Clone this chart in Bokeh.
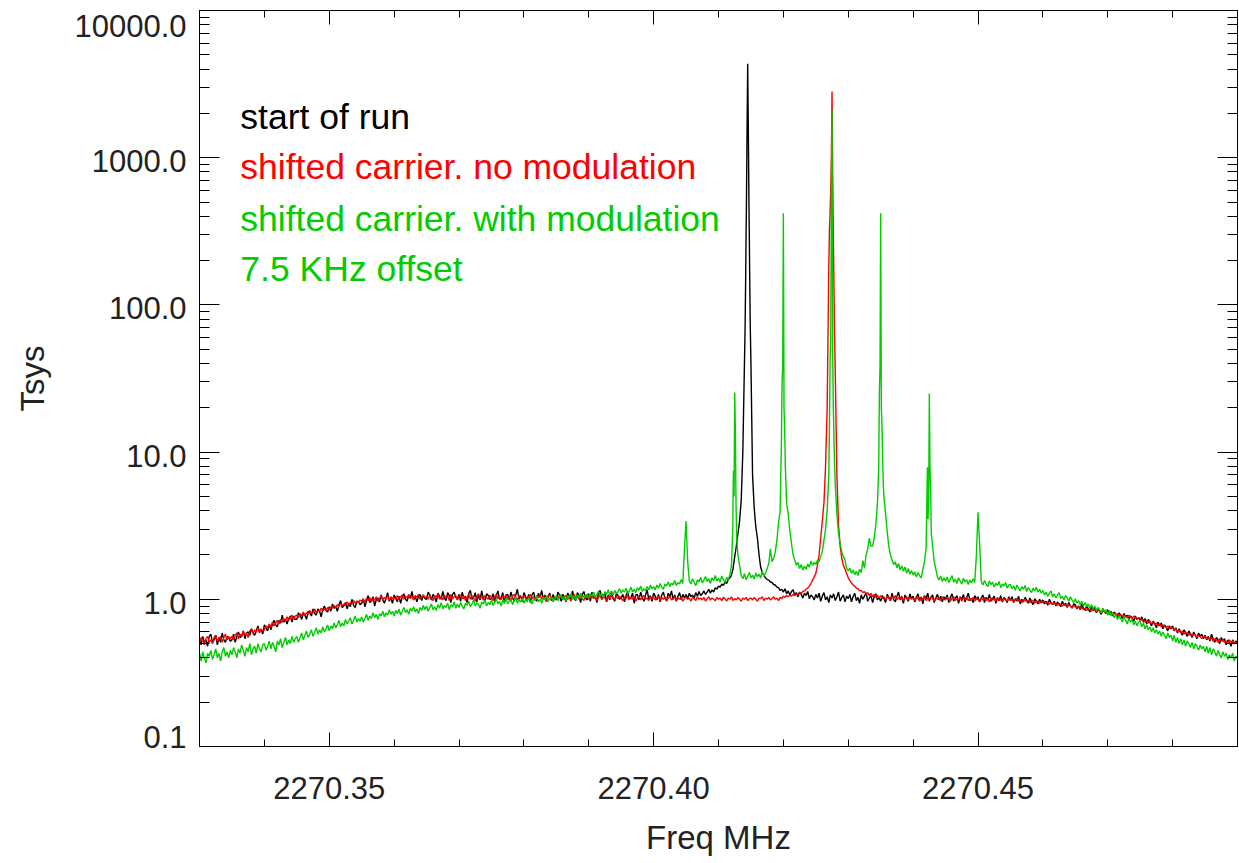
import numpy as np
from bokeh.plotting import figure
from bokeh.models import (Range1d, FixedTicker, LogAxis, LinearAxis, LinearScale,
                          NumeralTickFormatter, CustomJSTickFormatter, Label)
from bokeh.embed import file_html
from bokeh.resources import INLINE

# ---------------- data ----------------
freq_start = 2270.33    # MHz, first channel
freq_step = 0.00025     # MHz, channel spacing of the tabulated spectra

black_base = [
    0.54, 0.49, 0.56, 0.51, 0.53, 0.48, 0.56, 0.58, 0.51, 0.53, 0.57, 0.49, 0.55, 0.51, 0.59, 0.53, 0.51, 0.56, 0.55, 0.52,
    0.53, 0.58, 0.51, 0.56, 0.60, 0.55, 0.56, 0.61, 0.54, 0.59, 0.60, 0.57, 0.63, 0.59, 0.57, 0.61, 0.66, 0.60, 0.62, 0.58,
    0.67, 0.64, 0.61, 0.67, 0.62, 0.68, 0.72, 0.67, 0.65, 0.72, 0.69, 0.78, 0.70, 0.73, 0.68, 0.74, 0.77, 0.70, 0.77, 0.73,
    0.73, 0.81, 0.78, 0.73, 0.80, 0.78, 0.73, 0.83, 0.81, 0.77, 0.86, 0.80, 0.78, 0.86, 0.83, 0.76, 0.85, 0.90, 0.84, 0.82,
    0.89, 0.83, 0.93, 0.87, 0.89, 0.83, 0.92, 0.98, 0.88, 0.90, 0.95, 0.86, 0.94, 0.89, 1.00, 0.91, 0.88, 0.97, 0.96, 0.92,
    0.94, 1.01, 0.89, 0.98, 1.06, 0.95, 0.98, 1.04, 0.90, 1.00, 1.02, 0.96, 1.07, 0.99, 0.94, 1.02, 1.11, 0.97, 1.02, 0.94,
    1.07, 1.02, 0.96, 1.05, 0.94, 1.04, 1.09, 1.00, 0.97, 1.07, 1.02, 1.13, 0.99, 1.05, 0.96, 1.04, 1.08, 0.98, 1.07, 1.01,
    1.00, 1.12, 1.07, 0.99, 1.08, 1.03, 0.96, 1.10, 1.05, 1.00, 1.13, 1.02, 0.98, 1.11, 1.06, 0.95, 1.08, 1.12, 1.03, 1.00,
    1.08, 0.97, 1.12, 1.01, 1.05, 0.95, 1.09, 1.15, 1.00, 1.03, 1.11, 0.96, 1.07, 0.99, 1.14, 1.01, 0.97, 1.09, 1.06, 1.00,
    1.01, 1.09, 0.96, 1.06, 1.14, 1.00, 1.03, 1.11, 0.94, 1.07, 1.08, 0.99, 1.12, 1.03, 0.97, 1.07, 1.17, 1.00, 1.06, 0.96,
    1.11, 1.05, 0.99, 1.08, 0.95, 1.07, 1.12, 1.01, 0.97, 1.10, 1.03, 1.15, 1.00, 1.07, 0.96, 1.05, 1.10, 0.98, 1.08, 1.01,
    0.99, 1.12, 1.07, 0.97, 1.08, 1.03, 0.96, 1.10, 1.05, 1.00, 1.14, 1.01, 0.98, 1.11, 1.06, 0.95, 1.08, 1.13, 1.02, 0.99,
    1.09, 0.97, 1.12, 1.01, 1.05, 0.95, 1.10, 1.15, 1.00, 1.03, 1.11, 0.96, 1.07, 0.99, 1.13, 1.01, 0.97, 1.09, 1.06, 1.00,
    1.02, 1.08, 0.96, 1.06, 1.13, 1.00, 1.03, 1.10, 0.94, 1.07, 1.08, 0.99, 1.12, 1.03, 0.97, 1.07, 1.16, 1.00, 1.06, 0.97,
    1.10, 1.05, 0.99, 1.08, 0.96, 1.07, 1.12, 1.01, 0.98, 1.10, 1.04, 1.14, 1.00, 1.07, 0.97, 1.05, 1.11, 0.99, 1.08, 1.02,
    1.08, 1.01, 1.10, 1.04, 1.07, 1.02, 1.11, 1.05, 1.13, 1.06, 1.09, 1.14, 1.08, 1.12, 1.17, 1.10, 1.16, 1.12, 1.20, 1.17,
    1.23, 1.21, 1.27, 1.24, 1.31, 1.28, 1.36, 1.40, 1.46, 1.62, 1.95, 2.30, 2.80, 3.40, 4.70, 10.0, 40.0, 300.0, 4345.0, 300.0,
    40.0, 7.00, 4.20, 3.10, 2.60, 2.00, 1.65, 1.52, 1.45, 1.40, 1.36, 1.35, 1.31, 1.30, 1.26, 1.25, 1.21, 1.20, 1.15, 1.17,
    1.12, 1.18, 1.09, 1.14, 1.07, 1.13, 1.16, 1.06, 1.11, 1.04, 1.12, 1.08, 1.02, 1.10, 1.06, 1.13, 1.01, 1.07, 1.04, 0.99,
    1.08, 1.02, 1.10, 0.97, 1.05, 1.11, 0.99, 1.04, 0.95, 1.07, 1.02, 1.09, 0.98, 1.04, 1.12, 0.97, 1.03, 1.07, 0.96, 1.05,
    1.01, 1.08, 0.96, 1.04, 1.10, 0.98, 1.03, 0.94, 1.07, 1.00, 1.05, 1.11, 0.97, 1.02, 1.06, 0.95, 1.04, 1.09, 0.99, 1.03,
    0.97, 1.06, 1.01, 0.95, 1.08, 1.03, 0.98, 1.10, 1.00, 0.96, 1.05, 1.12, 0.99, 1.04, 0.94, 1.07, 1.02, 0.97, 1.09, 1.01,
    1.05, 0.96, 1.03, 1.09, 0.98, 1.04, 0.93, 1.06, 1.01, 1.10, 0.97, 1.03, 1.07, 0.95, 1.02, 1.08, 0.99, 1.05, 0.96, 1.04,
    1.00, 1.07, 0.95, 1.03, 1.09, 0.97, 1.02, 1.06, 0.94, 1.04, 1.00, 1.08, 0.96, 1.03, 1.10, 0.98, 1.01, 0.95, 1.06, 1.00,
    1.04, 0.96, 1.02, 1.07, 0.95, 1.03, 0.99, 1.08, 0.97, 1.01, 1.05, 0.94, 1.02, 0.98, 1.06, 0.96, 1.03, 1.00, 0.95, 1.04,
    0.98, 1.04, 0.95, 1.01, 0.97, 1.05, 0.93, 1.00, 0.96, 1.03, 0.99, 0.94, 1.02, 0.96, 0.92, 1.01, 0.97, 0.93, 1.00, 0.95,
    0.99, 0.93, 0.97, 0.91, 1.00, 0.95, 0.92, 0.97, 0.90, 0.96, 0.93, 0.89, 0.97, 0.91, 0.94, 0.88, 0.95, 0.90, 0.87, 0.93,
    0.92, 0.86, 0.90, 0.85, 0.93, 0.87, 0.84, 0.90, 0.86, 0.82, 0.89, 0.84, 0.87, 0.81, 0.86, 0.83, 0.79, 0.86, 0.82, 0.80,
    0.85, 0.79, 0.83, 0.77, 0.82, 0.79, 0.75, 0.81, 0.78, 0.74, 0.80, 0.76, 0.78, 0.73, 0.77, 0.75, 0.71, 0.77, 0.73, 0.75,
    0.72, 0.76, 0.70, 0.74, 0.68, 0.73, 0.70, 0.66, 0.71, 0.68, 0.64, 0.70, 0.66, 0.69, 0.63, 0.67, 0.65, 0.61, 0.66, 0.63,
    0.66, 0.61, 0.64, 0.59, 0.63, 0.60, 0.57, 0.62, 0.59, 0.56, 0.61, 0.58, 0.55, 0.60, 0.57, 0.54, 0.59, 0.56, 0.58, 0.54,
    0.57, 0.53, 0.56, 0.52, 0.58, 0.54, 0.51, 0.55, 0.53, 0.50, 0.55, 0.52, 0.54, 0.49, 0.53, 0.51, 0.48, 0.53, 0.50, 0.52,
    0.51,
]

red_base = [
    0.51, 0.55, 0.53, 0.49, 0.54, 0.56, 0.51, 0.53, 0.50, 0.55, 0.57, 0.52, 0.54, 0.56, 0.51, 0.55, 0.58, 0.53, 0.56, 0.54,
    0.56, 0.53, 0.57, 0.59, 0.54, 0.58, 0.56, 0.61, 0.57, 0.59, 0.55, 0.61, 0.63, 0.58, 0.62, 0.60, 0.64, 0.59, 0.63, 0.61,
    0.62, 0.66, 0.64, 0.68, 0.65, 0.70, 0.66, 0.69, 0.72, 0.68, 0.73, 0.70, 0.74, 0.71, 0.76, 0.72, 0.75, 0.78, 0.73, 0.77,
    0.78, 0.75, 0.80, 0.77, 0.82, 0.78, 0.81, 0.79, 0.84, 0.80, 0.82, 0.86, 0.81, 0.84, 0.82, 0.87, 0.83, 0.86, 0.84, 0.88,
    0.85, 0.89, 0.87, 0.91, 0.88, 0.92, 0.89, 0.94, 0.90, 0.93, 0.91, 0.96, 0.92, 0.95, 0.93, 0.98, 0.94, 0.97, 0.95, 0.99,
    0.97, 1.00, 0.95, 1.02, 0.98, 1.03, 0.96, 1.01, 0.99, 1.04, 0.97, 1.02, 1.05, 0.99, 1.03, 1.00, 1.06, 0.98, 1.04, 1.01,
    1.03, 0.99, 1.06, 1.01, 1.04, 1.07, 1.00, 1.05, 1.02, 1.08, 1.01, 1.05, 0.99, 1.06, 1.03, 1.08, 1.00, 1.04, 1.07, 1.02,
    1.05, 1.00, 1.07, 1.02, 0.98, 1.06, 1.03, 1.09, 1.00, 1.04, 0.99, 1.07, 1.02, 1.05, 0.98, 1.08, 1.01, 1.04, 1.06, 0.99,
    1.04, 1.07, 1.01, 1.05, 0.98, 1.03, 1.08, 1.00, 1.06, 1.02, 0.97, 1.05, 1.09, 1.01, 1.04, 0.99, 1.06, 1.03, 1.00, 1.07,
    1.02, 0.98, 1.05, 1.08, 1.01, 1.04, 0.99, 1.06, 1.03, 1.07, 1.00, 1.04, 0.97, 1.05, 1.08, 1.02, 0.99, 1.06, 1.03, 1.00,
    1.06, 1.02, 0.99, 1.05, 1.08, 1.01, 1.04, 0.98, 1.06, 1.03, 1.07, 1.00, 1.05, 1.02, 0.97, 1.04, 1.08, 1.01, 1.03, 0.99,
    1.05, 1.01, 1.07, 1.03, 0.99, 1.04, 1.06, 1.00, 1.03, 0.97, 1.05, 1.08, 1.02, 1.04, 1.00, 1.06, 1.01, 0.98, 1.05, 1.03,
    1.00, 1.04, 1.07, 1.01, 1.05, 0.98, 1.03, 1.06, 1.00, 1.04, 1.02, 0.97, 1.05, 1.01, 1.06, 1.03, 0.99, 1.04, 1.01, 1.05,
    1.02, 0.98, 1.04, 1.01, 1.06, 0.99, 1.03, 1.00, 1.05, 0.97, 1.02, 1.04, 0.99, 1.03, 1.06, 1.00, 1.02, 0.98, 1.04, 1.01,
    1.03, 0.99, 1.02, 1.05, 0.98, 1.03, 1.00, 1.04, 0.97, 1.02, 1.05, 0.99, 1.01, 1.04, 0.98, 1.02, 1.00, 1.03, 0.97, 1.01,
    1.04, 1.00, 1.02, 0.97, 1.03, 1.01, 0.98, 1.04, 1.00, 1.02, 0.99, 1.03, 0.97, 1.01, 1.04, 0.99, 1.02, 1.00, 0.98, 1.03,
    1.00, 1.02, 0.98, 1.03, 1.01, 0.97, 1.02, 1.00, 1.04, 0.98, 1.01, 0.99, 1.03, 1.00, 0.97, 1.02, 1.00, 1.03, 0.98, 1.01,
    1.02, 0.99, 1.03, 1.00, 0.97, 1.02, 1.01, 1.04, 0.98, 1.02, 1.00, 1.03, 0.99, 1.01, 1.04, 1.00, 1.02, 0.98, 1.03, 1.01,
    1.05, 1.03, 1.06, 1.04, 1.07, 1.05, 1.08, 1.06, 1.09, 1.08, 1.11, 1.10, 1.13, 1.14, 1.17, 1.19, 1.23, 1.28, 1.35, 1.42,
    1.50, 1.70, 2.00, 2.60, 3.40, 4.50, 8.00, 20.0, 180.0, 500.0, 2820.0, 200.0, 35.0, 7.00, 3.20, 2.30, 1.90, 1.70, 1.60, 1.50,
    1.40, 1.34, 1.29, 1.25, 1.23, 1.19, 1.18, 1.14, 1.15, 1.11, 1.13, 1.08, 1.11, 1.06, 1.10, 1.04, 1.08, 1.03, 1.07, 1.02,
    1.06, 1.01, 1.04, 0.99, 1.05, 1.02, 0.98, 1.04, 1.01, 1.06, 0.99, 1.03, 1.00, 1.05, 0.98, 1.02, 1.04, 0.99, 1.03, 1.00,
    1.02, 0.98, 1.04, 1.01, 0.97, 1.03, 1.00, 1.05, 0.98, 1.02, 0.99, 1.04, 1.01, 0.97, 1.03, 1.00, 1.02, 0.98, 1.04, 1.00,
    0.99, 1.03, 1.00, 0.97, 1.02, 1.04, 0.98, 1.01, 0.99, 1.03, 0.97, 1.02, 1.00, 1.04, 0.98, 1.01, 0.99, 1.03, 0.97, 1.01,
    1.00, 0.97, 1.02, 0.99, 1.03, 0.98, 1.01, 0.96, 1.02, 0.99, 1.01, 0.97, 1.03, 0.98, 1.00, 0.96, 1.01, 0.99, 0.97, 1.02,
    0.98, 1.00, 0.96, 0.99, 1.01, 0.97, 0.99, 0.95, 0.98, 1.00, 0.96, 0.98, 0.95, 0.99, 0.97, 0.94, 0.98, 0.96, 0.94, 0.97,
    0.95, 0.97, 0.94, 0.96, 0.93, 0.95, 0.92, 0.95, 0.93, 0.91, 0.94, 0.92, 0.90, 0.93, 0.91, 0.89, 0.92, 0.90, 0.88, 0.91,
    0.89, 0.87, 0.90, 0.86, 0.88, 0.85, 0.87, 0.84, 0.86, 0.85, 0.83, 0.86, 0.84, 0.82, 0.85, 0.83, 0.81, 0.84, 0.82, 0.80,
    0.82, 0.80, 0.83, 0.79, 0.81, 0.78, 0.80, 0.77, 0.79, 0.76, 0.78, 0.77, 0.75, 0.78, 0.76, 0.74, 0.77, 0.75, 0.73, 0.75,
    0.74, 0.72, 0.73, 0.70, 0.72, 0.69, 0.71, 0.68, 0.70, 0.67, 0.69, 0.66, 0.68, 0.65, 0.67, 0.66, 0.64, 0.66, 0.63, 0.65,
    0.64, 0.62, 0.63, 0.60, 0.62, 0.59, 0.61, 0.58, 0.60, 0.59, 0.57, 0.59, 0.56, 0.58, 0.57, 0.55, 0.57, 0.56, 0.54, 0.56,
    0.56, 0.54, 0.55, 0.53, 0.55, 0.52, 0.54, 0.53, 0.51, 0.54, 0.52, 0.53, 0.51, 0.52, 0.50, 0.53, 0.51, 0.52, 0.50, 0.51,
    0.50,
]

green_base = [
    0.43, 0.38, 0.44, 0.40, 0.37, 0.43, 0.41, 0.45, 0.39, 0.42, 0.46, 0.40, 0.43, 0.38, 0.44, 0.47, 0.41, 0.44, 0.40, 0.45,
    0.42, 0.47, 0.44, 0.40, 0.46, 0.43, 0.49, 0.45, 0.41, 0.47, 0.44, 0.50, 0.42, 0.46, 0.48, 0.43, 0.50, 0.46, 0.44, 0.49,
    0.50, 0.45, 0.48, 0.52, 0.46, 0.51, 0.48, 0.44, 0.52, 0.49, 0.54, 0.47, 0.51, 0.55, 0.49, 0.53, 0.50, 0.56, 0.51, 0.54,
    0.56, 0.51, 0.55, 0.59, 0.53, 0.57, 0.61, 0.55, 0.58, 0.62, 0.56, 0.60, 0.64, 0.58, 0.62, 0.59, 0.65, 0.60, 0.63, 0.67,
    0.61, 0.66, 0.63, 0.69, 0.64, 0.67, 0.72, 0.65, 0.69, 0.66, 0.73, 0.68, 0.71, 0.75, 0.68, 0.72, 0.77, 0.70, 0.74, 0.71,
    0.76, 0.70, 0.74, 0.79, 0.72, 0.77, 0.74, 0.81, 0.75, 0.79, 0.73, 0.80, 0.77, 0.83, 0.76, 0.81, 0.78, 0.85, 0.79, 0.83,
    0.77, 0.84, 0.80, 0.86, 0.78, 0.83, 0.88, 0.81, 0.85, 0.79, 0.87, 0.83, 0.89, 0.82, 0.86, 0.80, 0.88, 0.84, 0.91, 0.85,
    0.90, 0.83, 0.88, 0.93, 0.85, 0.89, 0.84, 0.92, 0.87, 0.95, 0.86, 0.91, 0.88, 0.94, 0.85, 0.92, 0.89, 0.96, 0.87, 0.93,
    0.88, 0.95, 0.90, 0.86, 0.94, 0.91, 0.97, 0.89, 0.93, 0.99, 0.90, 0.95, 0.92, 0.87, 0.96, 0.93, 0.99, 0.90, 0.95, 0.92,
    0.98, 0.91, 0.96, 1.01, 0.93, 0.97, 0.90, 0.99, 0.95, 1.02, 0.93, 0.97, 1.00, 0.92, 0.98, 1.03, 0.94, 0.99, 0.96, 1.01,
    0.94, 1.00, 0.96, 1.03, 0.97, 0.93, 1.01, 0.98, 1.05, 0.96, 1.00, 0.94, 1.03, 0.99, 1.06, 0.97, 1.01, 1.04, 0.96, 1.02,
    1.06, 0.98, 1.03, 1.08, 1.00, 1.04, 0.97, 1.06, 1.02, 1.09, 1.00, 1.05, 0.99, 1.07, 1.03, 1.10, 1.01, 1.06, 1.03, 1.09,
    1.02, 1.09, 1.05, 1.12, 1.03, 1.08, 1.14, 1.05, 1.10, 1.04, 1.13, 1.08, 1.16, 1.06, 1.11, 1.07, 1.15, 1.09, 1.13, 1.18,
    1.10, 1.16, 1.12, 1.19, 1.09, 1.14, 1.21, 1.12, 1.17, 1.11, 1.20, 1.15, 1.23, 1.13, 1.18, 1.14, 1.22, 1.16, 1.25, 1.18,
    1.22, 1.16, 1.25, 1.19, 1.28, 1.21, 1.17, 1.27, 1.23, 1.31, 1.22, 1.29, 1.25, 1.34, 1.24, 1.30, 1.27, 1.36, 1.28, 2.20,
    3.40, 1.80, 1.33, 1.27, 1.38, 1.30, 1.24, 1.36, 1.31, 1.41, 1.29, 1.35, 1.43, 1.32, 1.38, 1.28, 1.40, 1.34, 1.45, 1.33,
    1.39, 1.31, 1.44, 1.36, 1.30, 1.41, 1.35, 1.47, 1.70, 5.00, 25.4, 3.50, 2.00, 1.70, 1.45, 1.38, 1.49, 1.36, 1.43, 1.52,
    1.40, 1.46, 1.37, 1.51, 1.42, 1.48, 1.39, 1.56, 1.44, 1.50, 1.62, 1.75, 2.20, 1.80, 1.90, 2.10, 2.50, 3.30, 4.00, 20.0,
    420.0, 11.0, 4.50, 3.80, 2.90, 2.40, 2.00, 1.85, 1.70, 1.78, 1.62, 1.72, 1.58, 1.68, 1.60, 1.74, 1.65, 1.82, 1.70, 1.78,
    1.72, 1.85, 1.80, 1.95, 2.10, 2.50, 3.00, 4.00, 7.00, 50.0, 2130.0, 16.0, 6.00, 3.80, 2.80, 2.40, 2.10, 1.95, 1.85, 1.62,
    1.56, 1.63, 1.50, 1.58, 1.47, 1.55, 1.45, 1.60, 1.52, 1.83, 1.62, 2.00, 2.20, 2.60, 2.30, 2.30, 2.60, 3.20, 4.50, 15.0,
    420.0, 12.0, 5.00, 3.80, 2.90, 2.30, 2.00, 1.85, 1.72, 1.80, 1.63, 1.75, 1.58, 1.69, 1.55, 1.66, 1.50, 1.62, 1.48, 1.57,
    1.46, 1.54, 1.42, 1.52, 1.45, 1.40, 1.60, 1.80, 2.20, 6.00, 25.0, 4.00, 2.30, 1.80, 1.60, 1.42, 1.35, 1.44, 1.32, 1.40,
    1.33, 1.42, 1.30, 1.38, 1.45, 1.31, 1.37, 1.28, 1.40, 1.33, 1.27, 1.39, 1.31, 1.36, 1.26, 1.35, 1.29, 1.38, 1.30, 2.00,
    3.90, 2.40, 1.32, 1.25, 1.34, 1.27, 1.22, 1.33, 1.26, 1.31, 1.21, 1.29, 1.24, 1.32, 1.20, 1.27, 1.23, 1.30, 1.19, 1.25,
    1.26, 1.18, 1.23, 1.15, 1.25, 1.19, 1.14, 1.22, 1.17, 1.24, 1.13, 1.20, 1.16, 1.11, 1.19, 1.14, 1.21, 1.12, 1.17, 1.10,
    1.15, 1.07, 1.12, 1.05, 1.10, 1.14, 1.04, 1.09, 1.02, 1.07, 1.11, 1.01, 1.05, 0.99, 1.06, 1.02, 0.97, 1.04, 0.99, 0.95,
    1.01, 0.94, 0.98, 0.92, 0.97, 0.90, 0.95, 0.89, 0.93, 0.87, 0.92, 0.86, 0.90, 0.84, 0.88, 0.85, 0.81, 0.87, 0.82, 0.85,
    0.78, 0.84, 0.77, 0.81, 0.75, 0.79, 0.73, 0.77, 0.74, 0.70, 0.76, 0.72, 0.68, 0.74, 0.70, 0.73, 0.67, 0.71, 0.66, 0.70,
    0.71, 0.65, 0.69, 0.63, 0.67, 0.62, 0.65, 0.60, 0.64, 0.59, 0.62, 0.58, 0.61, 0.56, 0.60, 0.57, 0.54, 0.59, 0.55, 0.57,
    0.52, 0.57, 0.51, 0.55, 0.50, 0.54, 0.49, 0.53, 0.48, 0.52, 0.50, 0.47, 0.51, 0.46, 0.50, 0.48, 0.45, 0.49, 0.46, 0.48,
    0.44, 0.48, 0.43, 0.47, 0.42, 0.46, 0.44, 0.41, 0.45, 0.42, 0.40, 0.44, 0.41, 0.43, 0.39, 0.42, 0.40, 0.43, 0.38, 0.41,
    0.40,
]

# finer samples through the narrow line profiles
black_peak_freq = [2270.4141, 2270.4142, 2270.4143, 2270.4144,
                   2270.4146, 2270.4147, 2270.4148, 2270.4149]
black_peak_val = [70.0, 170.0, 450.0, 1500.0,
                  1500.0, 450.0, 170.0, 70.0]

red_peak_freq = [2270.4271, 2270.4272, 2270.4273, 2270.4274,
                 2270.4276, 2270.4277, 2270.4278, 2270.4279]
red_peak_val = [320.0, 420.0, 600.0, 1000.0,
                800.0, 300.0, 130.0, 60.0]

green_peak_freq = [
    2270.4122, 2270.4123, 2270.4124, 2270.4126, 2270.4127, 2270.4128,
    2270.4197, 2270.4198, 2270.4199, 2270.4201, 2270.4202, 2270.4203,
    2270.4271, 2270.4272, 2270.4273, 2270.4274, 2270.4276, 2270.4277, 2270.4278, 2270.4279,
    2270.4347, 2270.4348, 2270.4349, 2270.4351, 2270.4352, 2270.4353, 2270.4354,
    2270.4422, 2270.4423, 2270.4424, 2270.4426, 2270.4427, 2270.4428,
]
green_peak_val = [
    3.0, 7.5, 5.0, 14.0, 4.5, 2.6,
    12.0, 30.0, 39.0, 20.0, 14.0, 8.0,
    15.0, 40.0, 60.0, 540.0, 47.0, 20.0, 12.0, 8.0,
    8.0, 25.0, 39.0, 20.0, 15.0, 9.0, 6.0,
    7.9, 3.5, 5.0, 8.0, 5.3, 2.8,
]

series_names = ["start of run", "shifted carrier. no modulation",
                "shifted carrier. with modulation", "7.5 KHz offset"]
series_colors = ["#000000", "#ff0000", "#00cc00", "#00cc00"]

x_major_ticks = [2270.35, 2270.40, 2270.45]
x_minor_ticks = [2270.33, 2270.34, 2270.36, 2270.37, 2270.38, 2270.39,
                 2270.41, 2270.42, 2270.43, 2270.44, 2270.46, 2270.47,
                 2270.48, 2270.49]
y_major_ticks = [0.1, 1.0, 10.0, 100.0, 1000.0, 10000.0]
y_tick_labels = ["0.1", "1.0", "10.0", "100.0", "1000.0", "10000.0"]


def build(base, pf, pv):
    n = len(base)
    bf = np.round(freq_start + freq_step * np.arange(n), 5)
    f = np.concatenate([bf, np.array(pf)])
    v = np.concatenate([np.array(base, dtype=float), np.array(pv, dtype=float)])
    o = np.argsort(f, kind="stable")
    return f[o], v[o]


bx, by = build(black_base, black_peak_freq, black_peak_val)
rx, ry = build(red_base, red_peak_freq, red_peak_val)
gx, gy = build(green_base, green_peak_freq, green_peak_val)

y_minor_ticks = [float(k) * 10.0 ** d for d in range(-1, 4) for k in range(2, 10)]

FONT = "Liberation Sans"
FS = "31px"
FS_AXIS = "33px"
FS_LEG = "35.5px"
TXT = "#222222"
LW = 1.4

W, H = 1239, 863
B_LEFT, B_RIGHT, B_TOP, B_BOTTOM = 199, 2, 10, 117
FRAME_H = H - B_TOP - B_BOTTOM

p = figure(width=W, height=H,
           x_range=Range1d(2270.33, 2270.49), y_range=Range1d(0.1, 10000.0),
           y_axis_type="log", output_backend="svg", toolbar_location=None,
           min_border_left=B_LEFT, min_border_right=B_RIGHT, min_border_top=B_TOP,
           min_border_bottom=B_BOTTOM)
p.background_fill_color = "white"
p.border_fill_color = "white"
p.outline_line_color = "black"
p.outline_line_width = 1
p.grid.visible = False

p.line(bx, by, line_color=series_colors[0], line_width=LW)
p.line(rx, ry, line_color=series_colors[1], line_width=LW)
p.line(gx, gy, line_color=series_colors[2], line_width=LW)

# bottom axis
xa = p.xaxis[0]
xa.ticker = FixedTicker(ticks=x_major_ticks, minor_ticks=x_minor_ticks)
xa.formatter = NumeralTickFormatter(format="0.00")
xa.major_tick_in = 14
xa.major_tick_out = 0
xa.minor_tick_in = 7
xa.minor_tick_out = 0
xa.major_tick_line_color = "black"
xa.minor_tick_line_color = "black"
xa.axis_line_color = "black"
xa.major_label_text_font = FONT
xa.major_label_text_font_size = FS
xa.major_label_text_color = TXT
xa.major_label_standoff = 30
xa.axis_label = "Freq MHz"
xa.axis_label_text_font = FONT
xa.axis_label_text_font_size = FS_AXIS
xa.axis_label_text_font_style = "normal"
xa.axis_label_text_color = TXT
xa.axis_label_standoff = 17

blank = "return '';"

# left axis: ticks only (labels are carried by a separate label axis)
ya = p.yaxis[0]
ya.ticker = FixedTicker(ticks=y_major_ticks, minor_ticks=y_minor_ticks)
ya.formatter = CustomJSTickFormatter(code=blank)
ya.major_label_text_font_size = "1px"
ya.major_label_standoff = 0
ya.major_tick_in = 20
ya.major_tick_out = 0
ya.minor_tick_in = 10
ya.minor_tick_out = 0
ya.major_tick_line_color = "black"
ya.minor_tick_line_color = "black"
ya.axis_line_color = "black"

# label axis on a pixel-linear scale: the tick labels sit slightly below their
# ticks, and the two end labels are kept inside the frame height, as in the original
p.extra_y_ranges = {"labels": Range1d(0, FRAME_H)}
p.extra_y_scales = {"labels": LinearScale()}
tick_h = [FRAME_H * (np.log10(v) + 1.0) / 5.0 for v in y_major_ticks]
label_pos = [float(np.clip(h - 3.5, 9.5, FRAME_H - 15.0)) for h in tick_h]
lab_axis = LinearAxis(y_range_name="labels",
                      ticker=FixedTicker(ticks=label_pos, minor_ticks=[]),
                      formatter=CustomJSTickFormatter(args=dict(labels=y_tick_labels),
                                                      code="return labels[index];"),
                      major_tick_in=0, major_tick_out=0, minor_tick_in=0, minor_tick_out=0,
                      axis_line_color=None, major_tick_line_color=None,
                      minor_tick_line_color=None,
                      major_label_standoff=13,
                      major_label_text_font=FONT, major_label_text_font_size=FS,
                      major_label_text_color=TXT,
                      axis_label="Tsys", axis_label_text_font=FONT,
                      axis_label_text_font_size=FS_AXIS,
                      axis_label_text_font_style="normal",
                      axis_label_text_color=TXT, axis_label_standoff=20)
p.add_layout(lab_axis, "left")

# top and right axes: ticks only
top = LinearAxis(ticker=FixedTicker(ticks=x_major_ticks, minor_ticks=x_minor_ticks),
                 formatter=CustomJSTickFormatter(code=blank),
                 major_tick_in=14, major_tick_out=0, minor_tick_in=7, minor_tick_out=0,
                 major_label_text_font_size="1px", major_label_standoff=0,
                 axis_line_color="black", major_tick_line_color="black",
                 minor_tick_line_color="black")
p.add_layout(top, "above")
right = LogAxis(ticker=FixedTicker(ticks=y_major_ticks, minor_ticks=y_minor_ticks),
                formatter=CustomJSTickFormatter(code=blank),
                major_tick_in=20, major_tick_out=0, minor_tick_in=10, minor_tick_out=0,
                major_label_text_font_size="1px", major_label_standoff=0,
                axis_line_color="black", major_tick_line_color="black",
                minor_tick_line_color="black")
p.add_layout(right, "right")

# text legend
legend_x = 2270.3363
legend_y = [1876.0, 858.0, 386.0, 176.7]
for name, col, yy in zip(series_names, series_colors, legend_y):
    p.add_layout(Label(x=legend_x, y=yy, text=name, text_color=col,
                       text_font=FONT, text_font_size=FS_LEG, text_baseline="middle"))

open("out.html", "w").write(file_html(p, INLINE))
